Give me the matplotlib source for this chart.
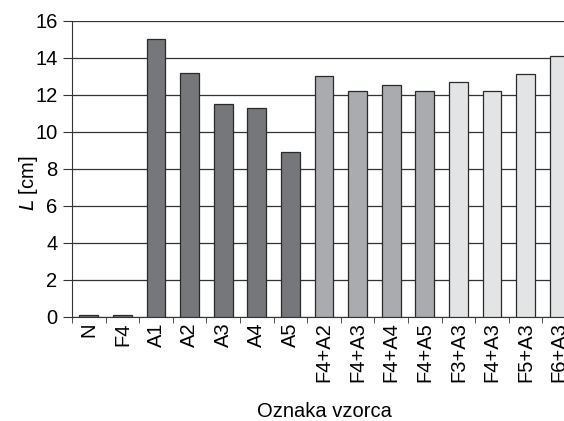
import matplotlib.pyplot as plt
import numpy as np

plt.rcParams['font.family'] = ['Liberation Sans', 'DejaVu Sans']

labels = ["N", "F4", "A1", "A2", "A3", "A4", "A5",
          "F4+A2", "F4+A3", "F4+A4", "F4+A5",
          "F3+A3", "F4+A3", "F5+A3", "F6+A3"]
lengths = [0.1, 0.1, 15.0, 13.2, 11.5, 11.3, 8.9,
           13.0, 12.2, 12.5, 12.2,
           12.7, 12.2, 13.1, 14.1]
groups = [0, 0, 1, 1, 1, 1, 1, 2, 2, 2, 2, 3, 3, 3, 3]

# fill per group: controls, single additive, F4 blends, other blends
group_colors = ["#76777b", "#76777b", "#aaabae", "#e3e4e5"]

fig = plt.figure(figsize=(5.64, 4.21), dpi=100)
# axes run past the right edge of the figure so the last bar is cut off
ax = fig.add_axes([0.1277, 0.2478, 0.8936, 0.703])

x = np.arange(len(labels))
ax.bar(x, lengths, width=0.56, color=[group_colors[g] for g in groups],
       edgecolor="#2a2a2a", linewidth=0.9, zorder=3)

ax.set_xlim(-0.5, len(labels) - 0.5)
ax.set_ylim(0, 16)
ax.set_yticks(np.arange(0, 17, 2))
ax.grid(axis="y", color="#333333", linewidth=0.9, zorder=0)

ax.set_xticks(x)
ax.set_xticklabels(labels, rotation=90, fontsize=14.5)
ax.set_xticks(np.arange(-0.5, len(labels)), minor=True)
ax.tick_params(axis="x", which="major", length=0, pad=4)
ax.tick_params(axis="x", which="minor", length=4.5, color="#333333")
ax.tick_params(axis="y", length=6.5, color="#333333", labelsize=14.5, pad=4)

for side in ["top", "right"]:
    ax.spines[side].set_visible(False)
ax.spines["left"].set_color("#333333")
ax.spines["bottom"].set_color("#333333")

ax.set_ylabel(r"$\it{L}$ [cm]", fontsize=14.5)
ax.yaxis.set_label_coords(-0.064, 0.45)
ax.set_xlabel("Oznaka vzorca", fontsize=14.5, labelpad=14.5)

fig.savefig("out.png", dpi=100)
